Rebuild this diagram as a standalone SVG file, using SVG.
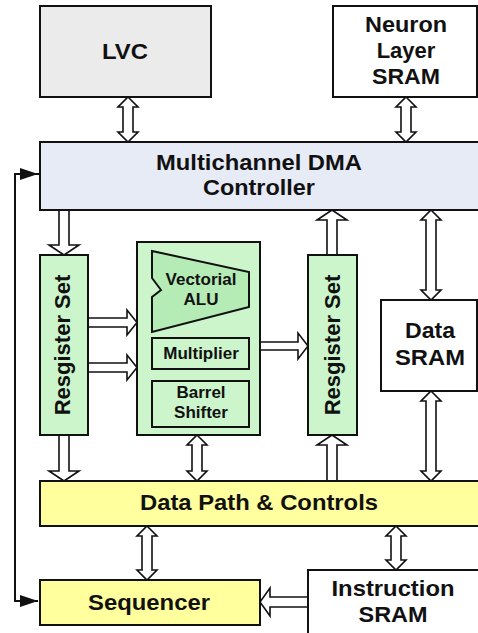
<svg xmlns="http://www.w3.org/2000/svg" width="478" height="633" viewBox="0 0 478 633">
<style>
.box{stroke:#111;stroke-width:2}
.t{font-family:"Liberation Sans",Arial,sans-serif;font-weight:bold;font-size:22px;fill:#111;text-anchor:middle}
.s{font-family:"Liberation Sans",Arial,sans-serif;font-weight:bold;font-size:17px;fill:#111;text-anchor:middle}
.ha{fill:#fff;stroke:#111;stroke-width:1.6;stroke-linejoin:miter}
.ln{fill:none;stroke:#111;stroke-width:2}
</style>
<defs>
<marker id="ah" viewBox="0 0 18 12" refX="18" refY="6" markerWidth="18" markerHeight="12" markerUnits="userSpaceOnUse" orient="auto">
<path d="M0,0 L18,6 L0,12 Z" fill="#111"/>
</marker>
</defs>
<rect width="478" height="633" fill="#fff"/>

<g id="connectors">
<polyline class="ln" points="40,174 15,174 15,601 38,601" marker-end="url(#ah)"/>
<line x1="15" y1="174" x2="38" y2="174" class="ln" marker-end="url(#ah)"/>
<polygon class="ha" points="128,97 138,107 133,107 133,132 138,132 128,142 118,132 123,132 123,107 118,107"/>
<polygon class="ha" points="406,97 416,107 411,107 411,132 416,132 406,142 396,132 401,132 401,107 396,107"/>
<polygon class="ha" points="59,210 69,210 69,245 79,245 64,255 49,245 59,245"/>
<polygon class="ha" points="59,435 69,435 69,471 79,471 64,481 49,471 59,471"/>
<polygon class="ha" points="88,318 127,318 127,310 137,322.5 127,335 127,327 88,327"/>
<polygon class="ha" points="88,363 127,363 127,355 137,367.5 127,380 127,372 88,372"/>
<polygon class="ha" points="260,342 298,342 298,333 308,346 298,359 298,350 260,350"/>
<polygon class="ha" points="327,255 337,255 337,220 347,220 332,210 317,220 327,220"/>
<polygon class="ha" points="327,481 337,481 337,445 347,445 332,435 317,445 327,445"/>
<polygon class="ha" points="431,210 441,220 436,220 436,290 441,290 431,300 421,290 426,290 426,220 421,220"/>
<polygon class="ha" points="431,391 441,401 436,401 436,471 441,471 431,481 421,471 426,471 426,401 421,401"/>
<polygon class="ha" points="197,435 207,445 202,445 202,471 207,471 197,481 187,471 192,471 192,445 187,445"/>
<polygon class="ha" points="147,526 157,536 152,536 152,570 157,570 147,580 137,570 142,570 142,536 137,536"/>
<polygon class="ha" points="396,526 406,536 401,536 401,560 406,560 396,570 386,560 391,560 391,536 386,536"/>
<polygon class="ha" points="308,597 270,597 270,588 260,602 270,616 270,607 308,607"/>
</g>

<g id="lvc">
<rect class="box" x="40" y="6" width="171" height="91" fill="#ebebeb"/>
<text class="t" x="125" y="59" textLength="46" lengthAdjust="spacingAndGlyphs">LVC</text>
</g>

<g id="neuron-sram">
<rect class="box" x="333" y="6" width="144" height="91" fill="#fff"/>
<text class="t" x="406" y="32" textLength="82" lengthAdjust="spacingAndGlyphs">Neuron</text>
<text class="t" x="406" y="58">Layer</text>
<text class="t" x="406" y="84" textLength="68" lengthAdjust="spacingAndGlyphs">SRAM</text>
</g>

<g id="dma">
<rect class="box" x="40" y="142" width="445" height="68" fill="#e7ebf6"/>
<text class="t" x="259" y="170" textLength="206" lengthAdjust="spacingAndGlyphs">Multichannel DMA</text>
<text class="t" x="259" y="195" textLength="112" lengthAdjust="spacingAndGlyphs">Controller</text>
</g>

<g id="regset-left">
<rect class="box" x="40" y="255" width="48" height="180" fill="#ccf5cc"/>
<text class="t" transform="translate(70,345) rotate(-90)">Resgister Set</text>
</g>

<g id="alu-block">
<rect class="box" x="137" y="242" width="123" height="193" fill="#ccf5cc"/>
<polygon class="box" points="152,251 249,272 249,307 152,332 152,297 161,290 152,278" fill="#b5ebb5"/>
<text class="s" x="201" y="285">Vectorial</text>
<text class="s" x="201" y="305">ALU</text>
<rect class="box" x="152" y="338" width="97" height="31" fill="#ccf5cc"/>
<text class="s" x="201" y="359">Multiplier</text>
<rect class="box" x="152" y="381" width="97" height="46" fill="#ccf5cc"/>
<text class="s" x="201" y="398">Barrel</text>
<text class="s" x="201" y="418">Shifter</text>
</g>

<g id="regset-right">
<rect class="box" x="308" y="255" width="49" height="180" fill="#ccf5cc"/>
<text class="t" transform="translate(340,345) rotate(-90)">Resgister Set</text>
</g>

<g id="data-sram">
<rect class="box" x="381" y="300" width="96" height="91" fill="#fff"/>
<text class="t" x="430" y="338" textLength="50" lengthAdjust="spacingAndGlyphs">Data</text>
<text class="t" x="430" y="365" textLength="70" lengthAdjust="spacingAndGlyphs">SRAM</text>
</g>

<g id="datapath">
<rect class="box" x="40" y="481" width="445" height="45" fill="#ffff9e"/>
<text class="t" x="259" y="510" textLength="238" lengthAdjust="spacingAndGlyphs">Data Path &amp; Controls</text>
</g>

<g id="sequencer">
<rect class="box" x="40" y="580" width="220" height="45" fill="#ffff9e"/>
<text class="t" x="149" y="610" textLength="122" lengthAdjust="spacingAndGlyphs">Sequencer</text>
</g>

<g id="instruction-sram">
<rect class="box" x="308" y="570" width="180" height="70" fill="#fff"/>
<text class="t" x="393" y="596" textLength="123" lengthAdjust="spacingAndGlyphs">Instruction</text>
<text class="t" x="393" y="622" textLength="69" lengthAdjust="spacingAndGlyphs">SRAM</text>
</g>
</svg>
